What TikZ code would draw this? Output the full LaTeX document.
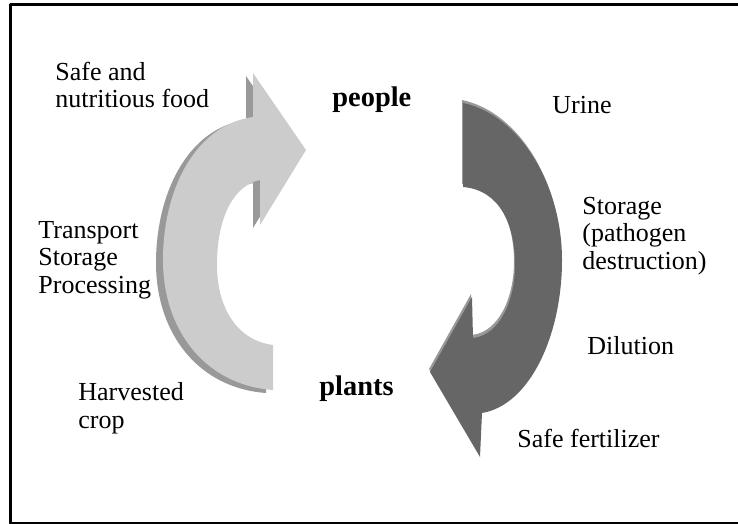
\documentclass[tikz,border=0pt]{standalone}
\usepackage{fontspec}
\setmainfont{Liberation Serif}
\usetikzlibrary{positioning}

\definecolor{foodfill}{gray}{0.80}
\definecolor{foodshade}{gray}{0.60}
\definecolor{urinefill}{gray}{0.40}
\definecolor{urineshade}{gray}{0.60}

% outlines of the two bent arrows (pixel grid, y down)
\newcommand\foodarrow{(253,73) -- (306,150) -- (260,225) -- (260,180)
    .. controls (235,185) and (217,215) .. (217,265)
    .. controls (217,305) and (235,340) .. (273,345)
    -- (273,390)
    .. controls (205,385) and (163,330) .. (163,260)
    .. controls (163,190) and (195,125) .. (253,117)
    -- cycle}
\newcommand\urinearrow{(463,103)
    .. controls (520,115) and (562,185) .. (562,260)
    .. controls (562,335) and (530,405) .. (482,413)
    -- (480,457) -- (430,372) -- (472,297) -- (473,338)
    .. controls (500,335) and (515,300) .. (515,265)
    .. controls (515,225) and (500,190) .. (463,187)
    -- cycle}

\begin{document}
\begin{tikzpicture}[
  x=0.5pt,y=-0.5pt,
  line cap=round,line join=round
]
  \tikzset{
    frame/.style={line width=1.5pt, draw=black},
    lbl/.style={inner sep=0pt, align=left, anchor=base west,
      font=\fontsize{13}{13.6}\selectfont},
    big/.style={inner sep=0pt, anchor=base west,
      font=\bfseries\fontsize{14.2}{15}\selectfont}
  }

  \useasboundingbox (0,0) rectangle (738,524);

  % Frame
  \draw[frame] (750,5) -- (10,5) -- (10,523) -- (750,523);

  % Left arrow (food) with its shadow
  \fill[foodshade, shift={(-7,3)}] \foodarrow;
  \fill[foodfill] \foodarrow;

  % Right arrow (urine) with its highlight
  \fill[urineshade, shift={(-1,-3)}] \urinearrow;
  \fill[urinefill] \urinearrow;

  % Labels (base = last line)
  \node[lbl] (food) at (55,108) {Safe and\\nutritious food};
  \node[big] (people) at (332,106) {people};
  \node[lbl] (urine) at (552,113) {Urine};
  \node[lbl] (handling) at (38,293) {Transport\\Storage\\Processing};
  \node[lbl] (storage) at (582,269) {Storage\\(pathogen\\destruction)};
  \node[lbl] (dilution) at (587,354) {Dilution};
  \node[big] (plants) at (319,395) {plants};
  \node[lbl] (harvest) at (78,428) {Harvested\\crop};
  \node[lbl] (fertilizer) at (517,447) {Safe fertilizer};
\end{tikzpicture}
\end{document}
